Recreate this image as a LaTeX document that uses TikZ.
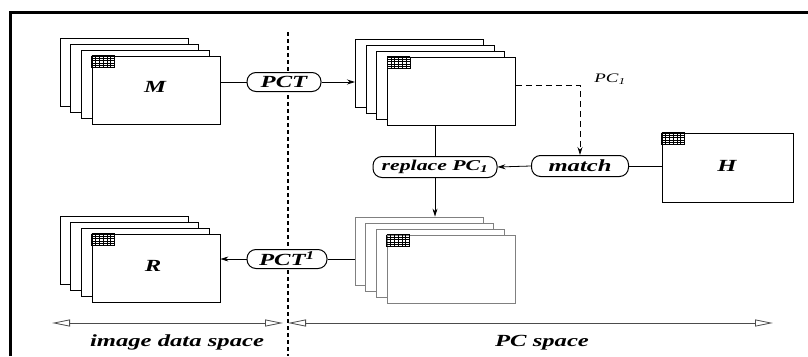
\documentclass[tikz,border=0pt]{standalone}
\usepackage{fontspec}
\setmainfont{Liberation Serif}[FakeStretch=1.45]
\usetikzlibrary{arrows.meta}

\begin{document}
\begin{tikzpicture}[x=1pt,y=-1pt,>={Stealth[length=8pt,width=5pt]},thick,
  sheet/.style={draw,fill=white,minimum width=128pt,minimum height=68pt,inner sep=0pt,line width=0.8pt},
  op node/.style={draw,fill=white,line width=1pt,rounded corners=9pt,minimum height=19pt,inner xsep=2pt,inner ysep=0pt,
    font=\fontsize{17}{17}\selectfont\bfseries\itshape},
  name node/.style={font=\fontsize{17}{17}\selectfont\bfseries\itshape},
  space arrow/.style={{Triangle[open,length=18pt,width=7pt]}-{Triangle[open,length=18pt,width=7pt]},
    gray!60!black,line width=0.8pt}]

  \useasboundingbox (0,0) rectangle (808,356);

  % frame and divider
  \draw[line width=3pt] (10,356) -- (10,12) -- (808,12);
  \draw[line width=2pt,dash pattern=on 4pt off 3pt] (288,32) -- (288,356);

  % sheet stacks
  \foreach \s/\x/\y/\c in {M/156/90/black, P/451.5/91/black, Q/451/269/gray, R/156/268/black}
    \foreach \i in {1,...,4}
      \node[sheet,draw=\c] (\s\i) at ({\x-(4-\i)*10.7},{\y-(4-\i)*6}) {};
  \node[sheet,minimum width=131pt,minimum height=69pt] (H) at (727.5,167.5) {};

  % pixel grids
  \foreach \s in {M4,P4,Q4,R4,H} {
    \foreach \k in {0,3.8,...,23}
      \draw[line width=0.5pt] (\s.north west) ++(\k,0) -- ++(0,12);
    \foreach \k in {0,2.4,...,12}
      \draw[line width=0.5pt] (\s.north west) ++(0,\k) -- ++(23,0);
  }

  \node[name node] (Mname) at (155,87) {M};
  \node[name node] (Rname) at (153,266) {R};
  \node[name node] (Hname) at (727,166) {H};

  % operations
  \node[op node,minimum width=74pt] (PCT) at (284,82) {PCT};
  \node[op node,minimum width=80pt] (PCTi) at (287,259) {PCT\textsuperscript{1}};
  \node[op node,minimum width=97pt,minimum height=21pt] (match) at (580,166) {match};
  \node[op node,minimum width=124pt,minimum height=21pt,font=\fontsize{15}{15}\selectfont\bfseries\itshape]
    (replace) at (435,167) {replace PC\textsubscript{1}};

  \draw (PCT.west) -- (PCT.west -| M4.east);
  \draw[->] (PCT.east) -- (PCT.east -| P1.west);
  \draw[->,line width=0.8pt,dash pattern=on 6pt off 4pt] ([yshift=6pt]P4.east) -| (match.north);
  \node[font=\fontsize{13}{13}\selectfont\itshape] (pcone) at (610,79) {PC\textsubscript{1}};
  \draw (match.east) -- (match.east -| H.west);
  \draw[->] (match.west) -- (replace.east);
  \draw (replace.north) -- (replace.north |- P4.south);
  \draw[->] (replace.south) -- (replace.south |- Q1.north);
  \draw (PCTi.east) -- (PCTi.east -| Q1.west);
  \draw[->] (PCTi.west) -- (PCTi.west -| R4.east);

  % spaces
  \coordinate (imgL) at (52,323);
  \coordinate (imgR) at (283,323);
  \coordinate (pcL) at (288,323);
  \coordinate (pcR) at (773,323);
  \draw[space arrow] (imgL) -- (imgR);
  \draw[space arrow] (pcL) -- (pcR);
  \node[name node] (imgspace) at (177,342) {image data space};
  \node[name node] (pcspace) at (542,343) {PC space};
\end{tikzpicture}
\end{document}
